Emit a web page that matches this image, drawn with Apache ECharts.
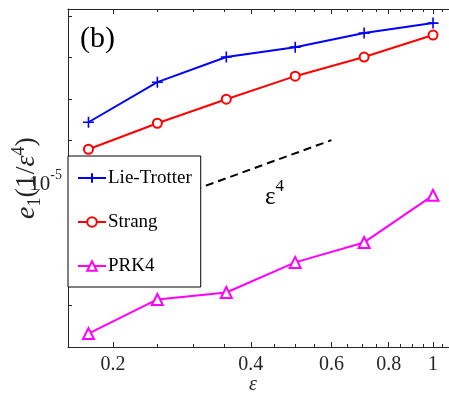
<!DOCTYPE html>
<html>
<head>
<meta charset="utf-8">
<script src="https://cdn.jsdelivr.net/npm/echarts@6/dist/echarts.min.js"></script>
<style>
  html, body { margin: 0; padding: 0; background: #fff; }
  #chart { width: 449px; height: 395px; }
</style>
</head>
<body>
<div id="chart"></div>
<script>
// Step size epsilon (halved in steps of 1/sqrt(2))
const epsilon = [0.1768, 0.25, 0.3536, 0.5, 0.7071, 1];

// Error e1 for each splitting scheme
const lieTrotter = [2.71e-4, 2.52e-3, 1.02e-2, 1.77e-2, 3.87e-2, 6.76e-2];
const strang     = [6.03e-5, 2.56e-4, 9.77e-4, 3.52e-3, 1.02e-2, 3.47e-2];
const prk4       = [2.11e-9, 1.41e-8, 2.08e-8, 1.11e-7, 3.37e-7, 4.63e-6];

// Reference slope segment (order 4)
const refEps = [0.3, 0.6];
const refErr = [6.2e-6, 1e-4];

// Axis ticks
const xMajorTicks = [0.2, 0.4, 0.6, 0.8, 1];
const xMinorTicks = [0.15, 0.25, 0.3, 0.35, 0.45, 0.5, 0.55, 0.65, 0.7, 0.75, 0.85, 0.9, 0.95, 1.05];
const yTicks = [1e-9, 1e-8, 1e-7, 1e-6, 1e-5, 1e-4, 1e-3, 1e-2, 1e-1];
const yLabelTicks = [1e-5];

const X_MIN = 0.1595, X_MAX = 1.0836;
const Y_MIN = 1e-9, Y_MAX = 0.148;

const SERIF = 'Liberation Serif';
const AXIS_COLOR = '#262626';

const pairs = (xs, ys) => xs.map((x, i) => [x, ys[i]]);

function xAxisDef(position, ticks, len, withLabels, showLine) {
  return {
    type: 'log', logBase: 10, min: X_MIN, max: X_MAX, position: position,
    axisLine: { show: showLine, lineStyle: { color: AXIS_COLOR, width: 1 } },
    axisTick: { show: true, inside: true, length: len, customValues: ticks,
                lineStyle: { color: AXIS_COLOR, width: 1 } },
    axisLabel: withLabels ? {
      show: true, customValues: xMajorTicks, margin: 8,
      fontFamily: SERIF, fontSize: 20, color: '#262626',
      formatter: v => String(Number(v.toFixed(2)))
    } : { show: false },
    splitLine: { show: false }, minorTick: { show: false }
  };
}

const chart = echarts.init(document.getElementById('chart'), null, { renderer: 'canvas' });

chart.setOption({
  animation: false,
  backgroundColor: '#fff',
  grid: { left: 68, top: 9, right: 0, bottom: 48, containLabel: false },
  xAxis: [
    xAxisDef('bottom', xMajorTicks, 5, true, true),
    xAxisDef('bottom', xMinorTicks, 3, false, false),
    xAxisDef('top', xMajorTicks, 5, false, true),
    xAxisDef('top', xMinorTicks, 3, false, false)
  ],
  yAxis: {
    type: 'log', logBase: 10, min: Y_MIN, max: Y_MAX, position: 'left',
    axisLine: { show: true, lineStyle: { color: AXIS_COLOR, width: 1 } },
    axisTick: { show: true, inside: true, length: 4, customValues: yTicks,
                lineStyle: { color: AXIS_COLOR, width: 1 } },
    axisLabel: {
      show: true, customValues: yLabelTicks, margin: 6,
      formatter: () => '{b|10}{s|-5}',
      rich: {
        b: { fontFamily: SERIF, fontSize: 21, color: '#262626', lineHeight: 26, verticalAlign: 'bottom' },
        s: { fontFamily: SERIF, fontSize: 14, color: '#262626', lineHeight: 14, verticalAlign: 'top' }
      }
    },
    splitLine: { show: false }, minorTick: { show: false }
  },
  legend: {
    orient: 'vertical', left: 68, top: 156,
    padding: [12, 9, 11, 9], itemGap: 24, itemWidth: 28, itemHeight: 12,
    backgroundColor: '#fff', borderColor: '#000', borderWidth: 1, borderRadius: 0,
    textStyle: { fontFamily: SERIF, fontSize: 19, color: '#000', lineHeight: 20, padding: [0, 0, 0, -3] },
    data: ['Lie-Trotter', 'Strang', 'PRK4']
  },
  series: [
    {
      name: 'Lie-Trotter', type: 'line', xAxisIndex: 0,
      data: pairs(epsilon, lieTrotter),
      symbol: 'path://M5 0L5 10M0 5L10 5', symbolSize: 11,
      lineStyle: { color: '#0000ff', width: 2 },
      itemStyle: { color: '#0000ff', borderColor: '#0000ff', borderWidth: 1.6 }
    },
    {
      name: 'Strang', type: 'line', xAxisIndex: 0,
      data: pairs(epsilon, strang),
      symbol: 'emptyCircle', symbolSize: 9,
      lineStyle: { color: '#ff0000', width: 2 },
      itemStyle: { color: '#ff0000', borderColor: '#ff0000', borderWidth: 1.6 }
    },
    {
      name: 'PRK4', type: 'line', xAxisIndex: 0,
      data: pairs(epsilon, prk4),
      symbol: 'emptyTriangle', symbolSize: 11,
      lineStyle: { color: '#ff00ff', width: 2 },
      itemStyle: { color: '#ff00ff', borderColor: '#ff00ff', borderWidth: 1.6 }
    },
    {
      name: 'slope', type: 'line', xAxisIndex: 0,
      data: pairs(refEps, refErr),
      symbol: 'none', silent: true,
      lineStyle: { color: '#000', width: 2, type: [8, 5] }
    }
  ],
  graphic: [
    { type: 'text', left: 80, top: 24, z: 10,
      style: { text: '(b)', font: '30px "Liberation Serif"', fill: '#000' } },
    { type: 'text', left: 265, top: 178, z: 10,
      style: {
        text: '{e|ε}{s|4}',
        rich: {
          e: { fontFamily: SERIF, fontSize: 25, fill: '#000', lineHeight: 32, verticalAlign: 'bottom' },
          s: { fontFamily: SERIF, fontSize: 17, fill: '#000', lineHeight: 18, verticalAlign: 'top' }
        }
      } },
    { type: 'text', x: 253, y: 385, z: 10,
      style: { text: 'ε', font: 'italic 20px "Liberation Serif"', fill: '#262626',
               align: 'center', verticalAlign: 'middle' } },
    { type: 'text', x: 27, y: 178, rotation: Math.PI / 2, z: 10,
      style: {
        text: '{i|e}{d|1}{n|(1/}{i|ε}{u|4}{n|)}',
        align: 'center', verticalAlign: 'middle',
        rich: {
          i: { fontFamily: SERIF, fontStyle: 'italic', fontSize: 28, fill: '#262626', lineHeight: 34, verticalAlign: 'middle' },
          n: { fontFamily: SERIF, fontSize: 28, fill: '#262626', lineHeight: 34, verticalAlign: 'middle' },
          d: { fontFamily: SERIF, fontSize: 18, fill: '#262626', lineHeight: 16, verticalAlign: 'bottom' },
          u: { fontFamily: SERIF, fontSize: 18, fill: '#262626', lineHeight: 18, verticalAlign: 'top' }
        }
      } }
  ]
});
</script>
</body>
</html>
